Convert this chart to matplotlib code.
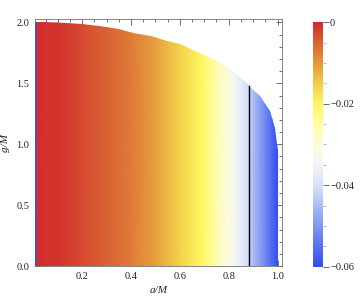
import numpy as np
import matplotlib
matplotlib.use("Agg")
import matplotlib.pyplot as plt
from matplotlib.colors import LinearSegmentedColormap, Normalize
from matplotlib.patches import Polygon
from matplotlib.ticker import MultipleLocator

plt.rcParams['font.family'] = ['Liberation Serif', 'DejaVu Serif']

# field value sampled along a/M (colour does not change with g/M)
a_cols = [0.0, 0.0145, 0.0155, 0.1, 0.2, 0.3, 0.4, 0.5, 0.6, 0.69, 0.75, 0.8, 0.84, 0.88, 0.9, 0.95, 1.0]
v_cols = [-0.06, -0.06, -0.0005, -0.001, -0.003, -0.005, -0.0075, -0.011, -0.0155, -0.02,
          -0.026, -0.031, -0.036, -0.041, -0.045, -0.052, -0.06]

# upper edge of the filled region
bnd_a = [0.0, 0.0, 0.05, 0.136, 0.2, 0.27, 0.35, 0.41, 0.48, 0.546, 0.6, 0.67, 0.735,
         0.805, 0.874, 0.886, 0.927, 0.968, 0.989, 0.997, 1.0, 1.0]
bnd_g = [0.0, 2.0, 2.0, 1.998, 1.99, 1.97, 1.945, 1.917, 1.885, 1.852, 1.82, 1.758, 1.70,
         1.62, 1.506, 1.473, 1.40, 1.277, 1.137, 1.006, 0.95, 0.0]

# vertical black line
line_a = 0.8835
line_g = [0.0, 1.478]

cb_ticks = [0.0, -0.02, -0.04, -0.06]
cb_labels = ['0', '\u22120.02', '\u22120.04', '\u22120.06']

cmap = LinearSegmentedColormap.from_list('temp', [
    (0.0, (0.20, 0.30, 0.95)),
    (0.17, (0.50, 0.60, 0.95)),
    (0.33, (0.85, 0.88, 0.98)),
    (0.42, (0.96, 0.96, 0.97)),
    (0.50, (0.99, 0.99, 0.86)),
    (0.58, (1.00, 0.99, 0.66)),
    (0.667, (1.00, 0.97, 0.38)),
    (0.75, (0.95, 0.80, 0.28)),
    (0.83, (0.90, 0.60, 0.24)),
    (0.92, (0.85, 0.38, 0.20)),
    (1.0, (0.82, 0.16, 0.17)),
])
norm = Normalize(vmin=-0.06, vmax=0.0)

fig = plt.figure(figsize=(3.61, 2.99), dpi=100)
ax = fig.add_axes([0.097, 0.110, 0.684, 0.825])

A = np.array([a_cols, a_cols])
G = np.array([[0.0] * len(a_cols), [2.05] * len(a_cols)])
C = np.array([v_cols, v_cols])
mesh = ax.pcolormesh(A, G, C, cmap=cmap, norm=norm, shading='gouraud', zorder=3)
clip = Polygon(np.column_stack([bnd_a, bnd_g]), closed=True, transform=ax.transData,
               facecolor='none', edgecolor='none')
ax.add_patch(clip)
mesh.set_clip_path(clip)

ax.plot([line_a, line_a], line_g, color='black', lw=1.0, zorder=4)

ax.set_xlim(0.007, 1.018)
ax.set_ylim(0.0, 2.025)
ax.xaxis.set_major_locator(MultipleLocator(0.2))
ax.xaxis.set_minor_locator(MultipleLocator(0.05))
ax.yaxis.set_major_locator(MultipleLocator(0.5))
ax.yaxis.set_minor_locator(MultipleLocator(0.1))
ax.set_xticks([0.2, 0.4, 0.6, 0.8, 1.0])
ax.set_xticklabels(['0.2', '0.4', '0.6', '0.8', '1.0'])
ax.set_yticks([0.0, 0.5, 1.0, 1.5, 2.0])
ax.set_yticklabels(['0.0', '0.5', '1.0', '1.5', '2.0'])
ax.tick_params(which='both', direction='in', top=True, right=True, color='0.35',
               width=0.6, labelsize=7.5, labelcolor='#222222')
ax.tick_params(which='major', length=4, pad=4)
ax.tick_params(which='minor', length=2)
for s in ax.spines.values():
    s.set_color('0.45')
    s.set_linewidth(0.6)
    s.set_zorder(2)

ax.set_xlabel('a/M', fontstyle='italic', fontsize=8, labelpad=4, color='#222222')
ax.set_ylabel('g/M', fontstyle='italic', fontsize=8, labelpad=5, color='#222222')

cax = fig.add_axes([0.866, 0.108, 0.029, 0.818])
cb = fig.colorbar(mesh, cax=cax)
cb.outline.set_visible(False)
cb.set_ticks(cb_ticks)
cb.set_ticklabels(cb_labels)
cb.ax.yaxis.set_minor_locator(MultipleLocator(0.005))
cb.ax.tick_params(which='major', length=4, width=0.6, color='0.3', labelsize=7.5, pad=1,
                  labelcolor='#222222')
cb.ax.tick_params(which='minor', length=2, width=0.5, color='0.6')

fig.savefig('out.png', dpi=100)
